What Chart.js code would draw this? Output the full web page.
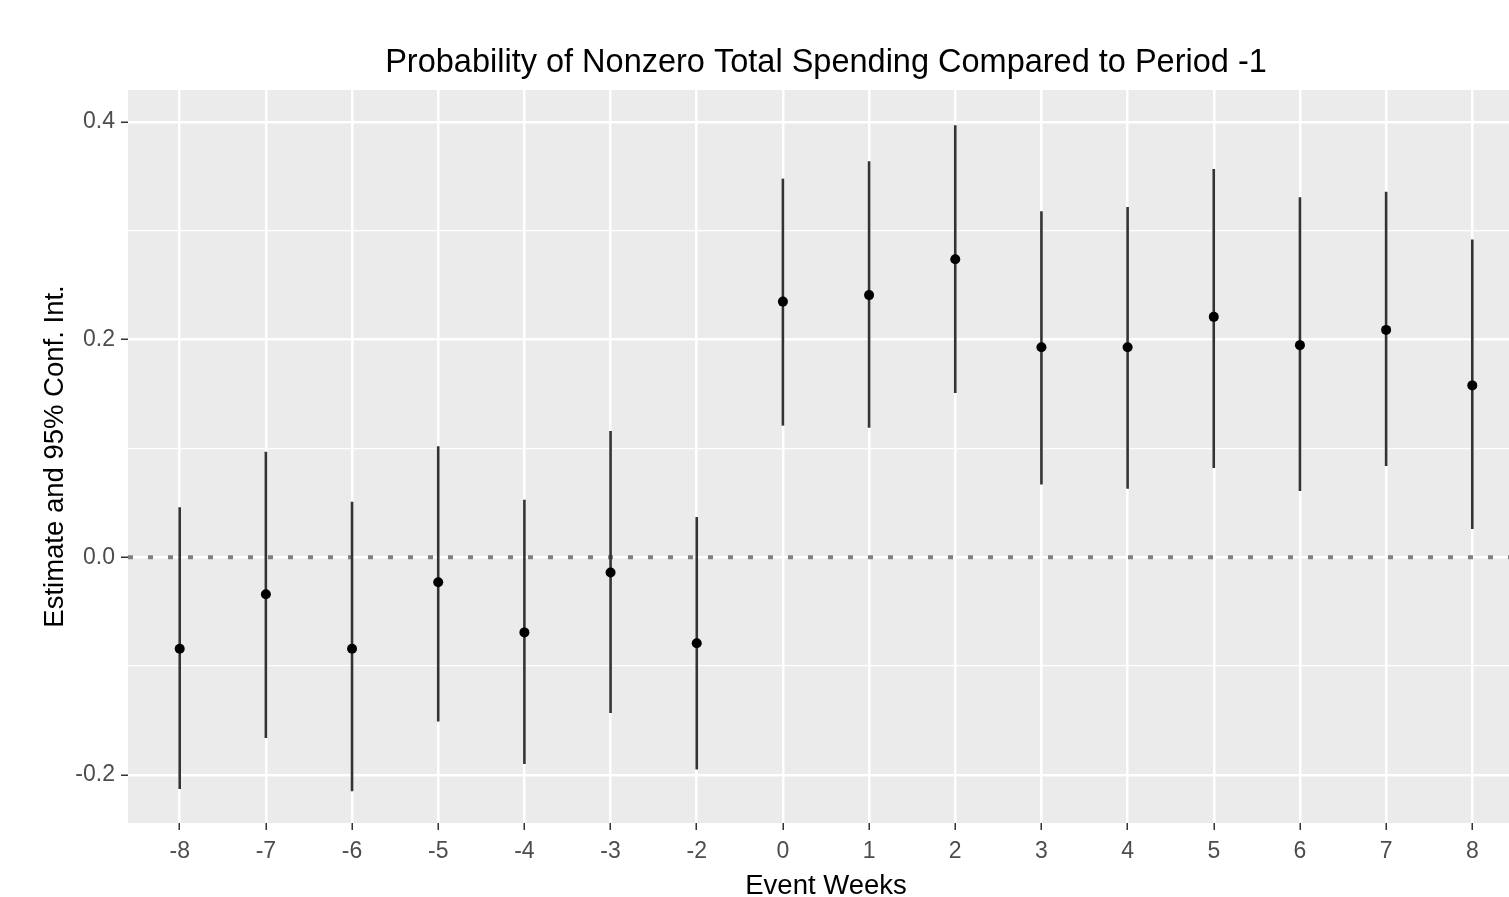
<!DOCTYPE html>
<html lang="en">
  <head>
    <meta charset="UTF-8" />
    <title>Probability of Nonzero Total Spending</title>
    <style>
      html, body { margin: 0; padding: 0; background: #fff; overflow: hidden; }
      #wrap { width: 1529px; height: 897px; }
    </style>
  </head>
  <body>
    <div id="wrap"><canvas id="myChart"></canvas></div>
  </body>
  <script src="https://cdn.jsdelivr.net/npm/chart.js"></script>
  <script>
    // event weeks (period -1 is the reference, so it is missing)
    var weeks = ["-8", "-7", "-6", "-5", "-4", "-3", "-2", "0", "1", "2", "3", "4", "5", "6", "7", "8"];
    var estimate = [-0.084, -0.034, -0.084, -0.023, -0.069, -0.014, -0.079, 0.235, 0.241, 0.274, 0.193, 0.193, 0.221, 0.195, 0.209, 0.158];
    var lower = [-0.213, -0.166, -0.215, -0.151, -0.190, -0.143, -0.195, 0.121, 0.119, 0.151, 0.067, 0.063, 0.082, 0.061, 0.084, 0.026];
    var upper = [0.046, 0.097, 0.051, 0.102, 0.053, 0.116, 0.037, 0.348, 0.364, 0.397, 0.318, 0.322, 0.357, 0.331, 0.336, 0.292];
    var yTicks = [-0.2, -0.1, 0, 0.1, 0.2, 0.3, 0.4];

    function isMajor(v) {
      return Math.round(v * 10) % 2 === 0;
    }

    var datasets = [];
    datasets.push({
      label: "estimate",
      data: estimate.map(function (v, i) { return { x: i, y: v }; }),
      pointRadius: 5,
      pointBackgroundColor: "#000",
      pointBorderWidth: 0,
      showLine: false,
    });
    for (var i = 0; i < weeks.length; i++) {
      datasets.push({
        label: "ci " + weeks[i],
        data: [{ x: i, y: lower[i] }, { x: i, y: upper[i] }],
        showLine: true,
        borderColor: "#333333",
        borderWidth: 2.6,
        pointRadius: 0,
      });
    }
    datasets.push({
      label: "zero",
      data: [{ x: -0.6, y: 0 }, { x: weeks.length - 0.4, y: 0 }],
      showLine: true,
      borderColor: "#808080",
      borderWidth: 4,
      borderDash: [5, 15],
      pointRadius: 0,
    });

    // grey ggplot-like panel and the plot title
    var panel = {
      id: "panel",
      beforeDraw: function (chart) {
        var a = chart.chartArea, c = chart.ctx;
        c.save();
        c.fillStyle = "#EBEBEB";
        c.fillRect(a.left, a.top, a.right - a.left, a.bottom - a.top);
        c.restore();
      },
      afterDraw: function (chart) {
        var a = chart.chartArea, c = chart.ctx;
        c.save();
        c.font = '32.5px "Liberation Sans"';
        c.fillStyle = "#000";
        c.textAlign = "center";
        c.textBaseline = "alphabetic";
        c.fillText("Probability of Nonzero Total Spending Compared to Period -1", (a.left + a.right) / 2, 72);
        c.restore();
      },
    };

    var config = {
      type: "scatter",
      data: { datasets: datasets },
      options: {
        responsive: true,
        maintainAspectRatio: false,
        animation: false,
        layout: { padding: { top: 90, left: 0, right: 0, bottom: 0 } },
        plugins: { legend: { display: false }, tooltip: { enabled: false } },
        scales: {
          x: {
            type: "linear",
            min: -0.6,
            max: weeks.length - 0.4,
            afterBuildTicks: function (s) {
              s.ticks = weeks.map(function (w, i) { return { value: i }; });
            },
            afterFit: function (s) { s.height = 74; },
            ticks: {
              autoSkip: false,
              maxRotation: 0,
              padding: 8,
              color: "#4D4D4D",
              font: { family: "Liberation Sans", size: 23 },
              callback: function (v) { return weeks[v]; },
            },
            grid: { color: "#FFFFFF", lineWidth: 2.5, tickColor: "#333333", tickLength: 7, tickWidth: 1.5 },
            border: { display: false },
            title: {
              display: true,
              text: "Event Weeks",
              color: "#000",
              font: { family: "Liberation Sans", size: 27.5 },
              padding: { top: 0, bottom: -6 },
            },
          },
          y: {
            type: "linear",
            min: -0.2442,
            max: 0.4295,
            afterBuildTicks: function (s) {
              s.ticks = yTicks.map(function (v) { return { value: v }; });
            },
            afterFit: function (s) { s.width = 128; },
            ticks: {
              padding: 6,
              color: "#4D4D4D",
              font: { family: "Liberation Sans", size: 23 },
              callback: function (v) { return isMajor(v) ? v.toFixed(1) : ""; },
            },
            grid: {
              color: "#FFFFFF",
              lineWidth: function (c) { return isMajor(c.tick.value) ? 2.5 : 1.3; },
              tickColor: function (c) { return isMajor(c.tick.value) ? "#333333" : "rgba(0,0,0,0)"; },
              tickLength: 7,
              tickWidth: 1.5,
            },
            border: { display: false },
            title: {
              display: true,
              text: "Estimate and 95% Conf. Int.",
              color: "#000",
              font: { family: "Liberation Sans", size: 27.5 },
              padding: { top: 39, bottom: 0 },
            },
          },
        },
      },
      plugins: [panel],
    };

    var myChart = new Chart(document.getElementById("myChart"), config);
  </script>
</html>
